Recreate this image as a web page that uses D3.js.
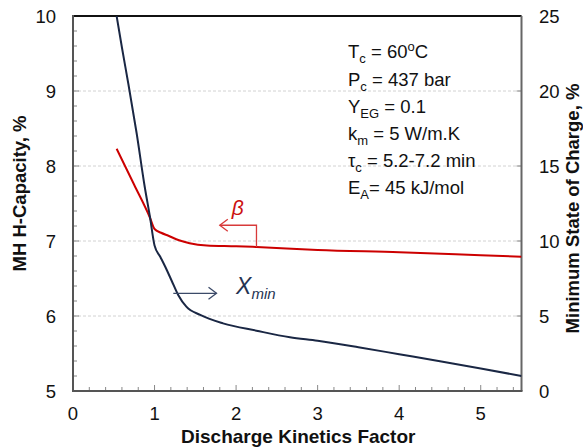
<!DOCTYPE html>
<html><head><meta charset="utf-8">
<script src="https://cdn.jsdelivr.net/npm/d3@7"></script>
<style>
body{margin:0;background:#fff;}
text{font-family:Arial,"Liberation Sans",sans-serif;}
</style></head>
<body><svg id="c" width="583" height="448"></svg>
<script>
// Data
const betaX = [0.535, 0.75, 0.944, 1.0, 1.08, 1.17, 1.3, 1.43, 1.64, 2.0, 2.25, 3.0, 4.0, 5.0, 5.5];
const betaY = [8.23, 7.75, 7.31, 7.16, 7.11, 7.07, 7.01, 6.97, 6.94, 6.93, 6.92, 6.88, 6.85, 6.81, 6.79];
const xminX = [0.535, 0.60, 0.678, 0.78, 0.88, 0.944, 1.0, 1.07, 1.15, 1.21, 1.29, 1.39, 1.56, 1.84, 2.25, 2.66, 3.0, 3.5, 4.0, 4.5, 5.0, 5.5];
const xminV = [25, 22.9, 20.5, 17.2, 13.6, 11.6, 9.7, 8.95, 8.07, 7.35, 6.4, 5.62, 5.07, 4.51, 4.02, 3.58, 3.35, 2.92, 2.45, 1.98, 1.5, 1.0];
const xTicks = [0, 1, 2, 3, 4, 5];
const leftTicks = [5, 6, 7, 8, 9, 10];
const rightTicks = [0, 5, 10, 15, 20, 25];
const gridLevels = [6, 7, 8, 9];
const params = [
  [["T",""],["c","sub"],[" = 60",""],["o","sup"],["C",""]],
  [["P",""],["c","sub"],[" = 437 bar",""]],
  [["Y",""],["EG","sub"],[" = 0.1",""]],
  [["k",""],["m","sub"],[" = 5 W/m.K",""]],
  [["τ",""],["c","sub"],[" = 5.2-7.2 min",""]],
  [["E",""],["A","sub"],["= 45 kJ/mol",""]]
];

const L = 73, R = 521.5, T = 16, B = 391;
const svg = d3.select("#c");
const x = d3.scaleLinear().domain([0, 5.5]).range([L, R]);
const yL = d3.scaleLinear().domain([5, 10]).range([B, T]);
const yR = d3.scaleLinear().domain([0, 25]).range([B, T]);

// gridlines
svg.append("g").selectAll("line").data(gridLevels).join("line")
  .attr("x1", L).attr("x2", R).attr("y1", d => yL(d)).attr("y2", d => yL(d))
  .attr("stroke", "#d2d2d2").attr("stroke-width", 1).attr("stroke-dasharray", "3,2");

// minor ticks
const minorX = d3.range(0, 5.5001, 0.2).map(v => +v.toFixed(2));
svg.append("g").selectAll("line").data(minorX).join("line")
  .attr("x1", d => x(d)).attr("x2", d => x(d))
  .attr("y1", B).attr("y2", d => Math.abs(d - Math.round(d)) < 1e-6 ? B - 6 : B - 4)
  .attr("stroke", "#888").attr("stroke-width", 1);
const minorY = d3.range(5, 10.0001, 0.2).map(v => +v.toFixed(2));
svg.append("g").selectAll("line").data(minorY).join("line")
  .attr("x1", L).attr("x2", d => Math.abs(d - Math.round(d)) < 1e-6 ? L + 6 : L + 4)
  .attr("y1", d => yL(d)).attr("y2", d => yL(d))
  .attr("stroke", "#888").attr("stroke-width", 1);
svg.append("g").selectAll("line").data(rightTicks).join("line")
  .attr("x1", R).attr("x2", R - 5)
  .attr("y1", d => yR(d)).attr("y2", d => yR(d))
  .attr("stroke", "#888").attr("stroke-width", 1);

// frame
svg.append("line").attr("x1", L).attr("x2", R).attr("y1", T).attr("y2", T).attr("stroke", "#111").attr("stroke-width", 2);
svg.append("line").attr("x1", R).attr("x2", R).attr("y1", T).attr("y2", B).attr("stroke", "#666").attr("stroke-width", 2);
svg.append("line").attr("x1", L).attr("x2", L).attr("y1", T - 1).attr("y2", B + 1).attr("stroke", "#555").attr("stroke-width", 2);
svg.append("line").attr("x1", L - 1).attr("x2", R + 1).attr("y1", B).attr("y2", B).attr("stroke", "#555").attr("stroke-width", 2);

// tick labels
const fs = 18.5;
svg.append("g").selectAll("text").data(xTicks).join("text")
  .attr("x", d => x(d)).attr("y", 420).attr("text-anchor", "middle")
  .attr("font-size", fs).attr("fill", "#111").text(d => d);
svg.append("g").selectAll("text").data(leftTicks).join("text")
  .attr("x", 56).attr("y", d => yL(d) + 6.5).attr("text-anchor", "end")
  .attr("font-size", fs).attr("fill", "#111").text(d => d);
svg.append("g").selectAll("text").data(rightTicks).join("text")
  .attr("x", 539).attr("y", d => yR(d) + 6.5).attr("text-anchor", "start")
  .attr("font-size", fs).attr("fill", "#111").text(d => d);

// axis titles
svg.append("text").attr("x", x(2.75) + 1).attr("y", 443).attr("text-anchor", "middle")
  .attr("font-size", 19).attr("font-weight", "bold").attr("fill", "#111").text("Discharge Kinetics Factor");
svg.append("text").attr("transform", `translate(26,${(T + B) / 2 - 10}) rotate(-90)`).attr("text-anchor", "middle")
  .attr("font-size", 18.5).attr("font-weight", "bold").attr("fill", "#111").text("MH H-Capacity, %");
svg.append("text").attr("transform", `translate(579,${(T + B) / 2 + 5}) rotate(-90)`).attr("text-anchor", "middle")
  .attr("font-size", 18.5).attr("font-weight", "bold").attr("fill", "#111").text("Minimum State of Charge, %");

// curves
const defs = svg.append("defs");
defs.append("clipPath").attr("id", "clip").append("rect").attr("x", L).attr("y", T).attr("width", R - L).attr("height", B - T);
const g = svg.append("g").attr("clip-path", "url(#clip)");
const betaLine = d3.line().x(d => x(d[0])).y(d => yL(d[1])).curve(d3.curveMonotoneX);
const xminLine = d3.line().x(d => x(d[0])).y(d => yR(d[1])).curve(d3.curveMonotoneX);
g.append("path").datum(betaX.map((v, i) => [v, betaY[i]])).attr("d", betaLine)
  .attr("fill", "none").attr("stroke", "#cc0000").attr("stroke-width", 2);
g.append("path").datum(xminX.map((v, i) => [v, xminV[i]])).attr("d", xminLine)
  .attr("fill", "none").attr("stroke", "#1a2744").attr("stroke-width", 2);

// beta annotation
const bx0 = 2.25, bx1 = 1.80, by = 7.21;
const red = "#d83a3a";
svg.append("path").attr("d", `M${x(bx0)},${yL(6.92)} L${x(bx0)},${yL(by)} L${x(bx1)},${yL(by)}`)
  .attr("fill", "none").attr("stroke", red).attr("stroke-width", 1.3);
svg.append("path").attr("d", `M${x(bx1) + 8},${yL(by) - 6} L${x(bx1)},${yL(by)} L${x(bx1) + 8},${yL(by) + 6}`)
  .attr("fill", "none").attr("stroke", red).attr("stroke-width", 1.3);
svg.append("text").attr("x", x(2.02)).attr("y", yL(7.35)).attr("text-anchor", "middle")
  .attr("font-size", 21).attr("font-style", "italic").attr("fill", "#cc1111").text("β");

// Xmin annotation
const nv = "#3b4a68";
const ax0 = 1.23, ax1 = 1.76, av = 6.51;
svg.append("line").attr("x1", x(ax0)).attr("x2", x(ax1)).attr("y1", yR(av)).attr("y2", yR(av))
  .attr("stroke", nv).attr("stroke-width", 1.3);
svg.append("path").attr("d", `M${x(ax1) - 8},${yR(av) - 6} L${x(ax1)},${yR(av)} L${x(ax1) - 8},${yR(av) + 6}`)
  .attr("fill", "none").attr("stroke", nv).attr("stroke-width", 1.3);
const xt = svg.append("text").attr("x", x(2.0)).attr("y", yR(6.47)).attr("font-style", "italic").attr("fill", "#253352");
xt.append("tspan").attr("font-size", 23).text("X");
xt.append("tspan").attr("font-size", 15).attr("dy", 5).text("min");

// parameter box
params.forEach((parts, i) => {
  const t = svg.append("text").attr("x", 348).attr("y", 58.3 + i * 27.2).attr("font-size", 18.5).attr("fill", "#111");
  let shift = 0;
  parts.forEach(([s, kind]) => {
    const sp = t.append("tspan").text(s);
    let target = 0;
    if (kind === "sub") { sp.attr("font-size", 13); target = 5; }
    else if (kind === "sup") { sp.attr("font-size", 13); target = -7; }
    sp.attr("dy", target - shift);
    shift = target;
  });
});
</script></body></html>
